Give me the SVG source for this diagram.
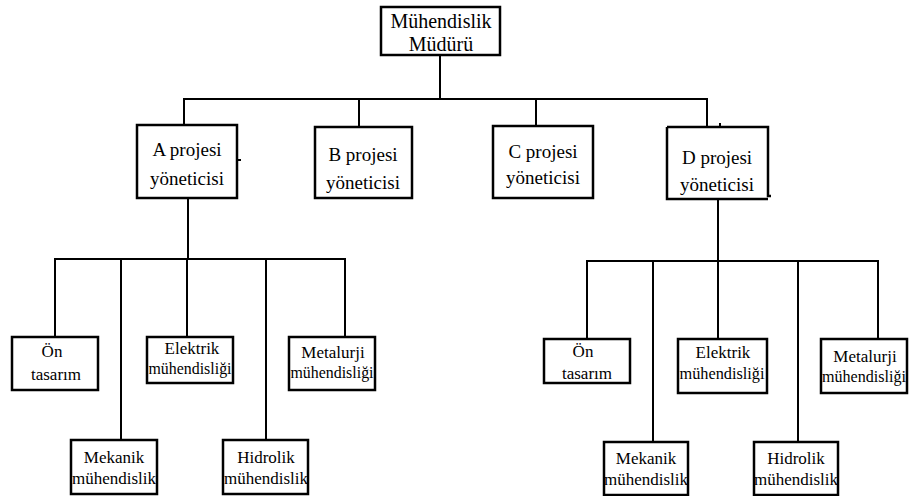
<svg xmlns="http://www.w3.org/2000/svg" width="909" height="496" viewBox="0 0 909 496">
<style>
.box{fill:#fff;stroke:#000;stroke-width:2.5}
.ln{fill:none;stroke:#000;stroke-width:2;stroke-linecap:square}
.t0,.t1,.t2{font-family:"Liberation Serif","DejaVu Serif","Noto Serif",serif;fill:#000;text-anchor:middle}
.t0{font-size:20px}
.t1{font-size:19px}
.t2{font-size:17px}
</style>
<rect width="909" height="496" fill="#fff"/>
<g id="connectors">
<path class="ln" d="M440,55V99M184,99H707M184,99V125M359,99V127M536,99V126M707,99V127"/>
<path class="ln" d="M188,198V259M55,259H345M55,259V337M121,259V440M187,259V337M266,259V440M345,259V337"/>
<path class="ln" d="M718,199V261M587,261H878M587,261V339M653,261V442M718,261V339M798,261V442M878,261V339"/>
</g>
<g id="mudur">
<rect class="box" x="381" y="7" width="119" height="48"/>
<text class="t0" x="441" y="28">Mühendislik</text>
<text class="t0" x="441" y="51">Müdürü</text>
</g>
<g id="proje-a">
<rect class="box" x="137" y="125" width="100" height="73"/>
<path class="ln" d="M238,160H240"/>
<text class="t1" x="187" y="156">A projesi</text>
<text class="t1" x="187" y="185">yöneticisi</text>
</g>
<g id="proje-b">
<rect class="box" x="315" y="127" width="97" height="71"/>
<text class="t1" x="363" y="161">B projesi</text>
<text class="t1" x="363" y="189">yöneticisi</text>
</g>
<g id="proje-c">
<rect class="box" x="493" y="126" width="100" height="72"/>
<text class="t1" x="543" y="158">C projesi</text>
<text class="t1" x="543" y="184">yöneticisi</text>
</g>
<g id="proje-d">
<path class="box" d="M667,127H768V196H771M667,127V199H768"/>
<path class="ln" d="M720,127V124"/>
<text class="t1" x="717" y="164">D projesi</text>
<text class="t1" x="717" y="191">yöneticisi</text>
</g>
<g id="a-on">
<rect class="box" x="12" y="337" width="86" height="53"/>
<text class="t2" x="52" y="357">Ön</text>
<text class="t2" x="56" y="380">tasarım</text>
</g>
<g id="a-mekanik">
<rect class="box" x="71" y="440" width="86" height="54"/>
<text class="t2" x="114" y="463">Mekanik</text>
<text class="t2" x="114" y="484">mühendislik</text>
</g>
<g id="a-elektrik">
<rect class="box" x="147" y="337" width="86" height="46"/>
<text class="t2" x="192" y="354">Elektrik</text>
<text class="t2" x="190" y="374" textLength="83" lengthAdjust="spacingAndGlyphs">mühendisliği</text>
</g>
<g id="a-hidrolik">
<rect class="box" x="223" y="440" width="85" height="54"/>
<text class="t2" x="266" y="463">Hidrolik</text>
<text class="t2" x="266" y="484">mühendislik</text>
</g>
<g id="a-metalurji">
<rect class="box" x="289" y="337" width="86" height="53"/>
<text class="t2" x="333" y="358">Metalurji</text>
<text class="t2" x="332" y="378" textLength="83" lengthAdjust="spacingAndGlyphs">mühendisliği</text>
</g>
<g id="d-on">
<rect class="box" x="544" y="339" width="86" height="44"/>
<text class="t2" x="583" y="357">Ön</text>
<text class="t2" x="587" y="379">tasarım</text>
</g>
<g id="d-mekanik">
<rect class="box" x="604" y="442" width="84" height="53"/>
<text class="t2" x="646" y="464">Mekanik</text>
<text class="t2" x="646" y="485">mühendislik</text>
</g>
<g id="d-elektrik">
<rect class="box" x="678" y="339" width="89" height="54"/>
<text class="t2" x="723" y="358">Elektrik</text>
<text class="t2" x="722" y="379" textLength="85" lengthAdjust="spacingAndGlyphs">mühendisliği</text>
</g>
<g id="d-hidrolik">
<rect class="box" x="754" y="442" width="84" height="53"/>
<text class="t2" x="796" y="464">Hidrolik</text>
<text class="t2" x="796" y="485">mühendislik</text>
</g>
<g id="d-metalurji">
<rect class="box" x="821" y="339" width="86" height="54"/>
<text class="t2" x="865" y="362">Metalurji</text>
<text class="t2" x="864" y="382" textLength="84" lengthAdjust="spacingAndGlyphs">mühendisliği</text>
</g>
</svg>
